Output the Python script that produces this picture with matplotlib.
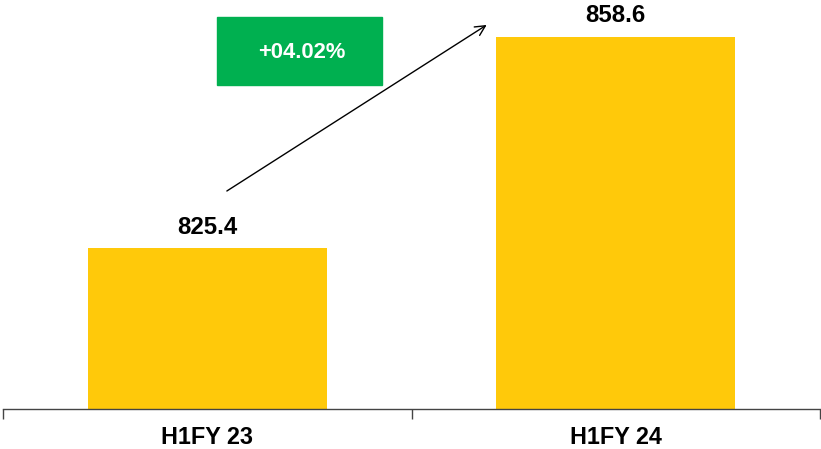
import matplotlib.pyplot as plt
from matplotlib.patches import Rectangle

categories = ['H1FY 23', 'H1FY 24']
values = [825.4, 858.6]
growth_label = '+04.02%'

bar_color = '#FFC90A'
box_color = '#00B050'

plt.rcParams['font.family'] = ['Liberation Sans', 'DejaVu Sans']

fig = plt.figure(figsize=(8.21, 4.49), dpi=100)
ax = fig.add_axes([3 / 821, 40 / 449, 817 / 821, 409 / 449])

x = list(range(len(categories)))
bars = ax.bar(x, values, width=0.585, color=bar_color)

ax.set_xlim(-0.5, len(categories) - 0.5)
ax.set_ylim(800.2, 864.4)

# value labels above bars
for xi, v in zip(x, values):
    ax.annotate(f'{v:.1f}', (xi, v), xytext=(0, 7), textcoords='offset points',
                ha='center', va='bottom', fontsize=17.3, fontweight='bold')

# spines / ticks
for side in ['top', 'right', 'left']:
    ax.spines[side].set_visible(False)
ax.spines['bottom'].set_color('#444444')
ax.spines['bottom'].set_linewidth(1)
ax.set_yticks([])
ax.set_xticks(x)
ax.set_xticklabels(categories, fontsize=16.8, fontweight='bold')
ax.tick_params(axis='x', which='major', length=0, pad=12.5)
ax.set_xticks([i - 0.5 for i in range(len(categories) + 1)], minor=True)
ax.tick_params(axis='x', which='minor', length=7, width=1, color='#444444', direction='out')

# growth arrow
ax.annotate('', xy=(0.592, 0.939), xytext=(0.274, 0.533), xycoords='axes fraction',
            textcoords='axes fraction',
            arrowprops=dict(arrowstyle='->', color='black', lw=1, mutation_scale=18,
                            shrinkA=0, shrinkB=0))

# green growth box
ax.add_patch(Rectangle((214 / 817, 1 - 85 / 409), 165 / 817, 68 / 409,
                       transform=ax.transAxes, color=box_color, zorder=3))
ax.text(0.366, 1 - 52 / 409, growth_label, transform=ax.transAxes, ha='center', va='center',
        color='white', fontsize=15.8, fontweight='bold', zorder=4)

fig.savefig('out.png', dpi=100)
